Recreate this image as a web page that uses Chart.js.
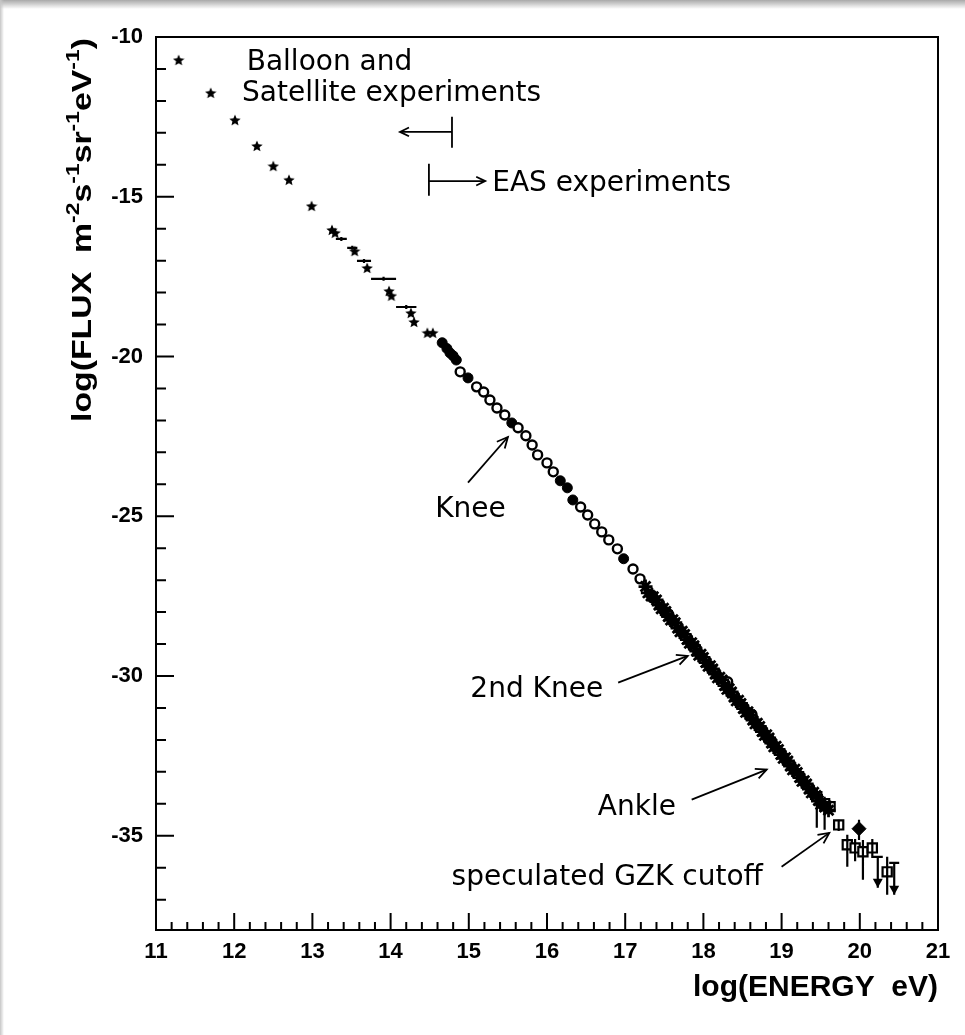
<!DOCTYPE html>
<html>
<head>
<meta charset="utf-8">
<title>Cosmic ray energy spectrum</title>
<script src="https://cdn.jsdelivr.net/npm/chart.js@4.4.1/dist/chart.umd.min.js"></script>
<style>
  html, body { margin: 0; padding: 0; background: #fff; }
  #wrap { position: relative; width: 965px; height: 1035px; overflow: hidden; }
  #shadeTop { position: absolute; left: 0; top: 0; width: 965px; height: 9px;
    background: linear-gradient(#a9a9a9, rgba(255,255,255,0)); }
  #shadeLeft { position: absolute; left: 0; top: 0; width: 4px; height: 1035px;
    background: linear-gradient(to right, #c6c6c6, rgba(255,255,255,0)); }
</style>
</head>
<body>
<div id="wrap">
  <canvas id="spectrum" width="965" height="1035"></canvas>
  <div id="shadeTop"></div>
  <div id="shadeLeft"></div>
</div>
<script>
// ---- data (log10 energy [eV], log10 flux) ----
const xMajor = [11, 12, 13, 14, 15, 16, 17, 18, 19, 20, 21];
const yMajor = [-35, -30, -25, -20, -15, -10];

// balloon / satellite (stars)
const balloonPts = [
  [11.29, -10.72], [11.70, -11.75], [12.01, -12.60], [12.29, -13.41], [12.50, -14.04],
  [12.70, -14.47], [12.99, -15.29], [13.25, -16.04], [13.29, -16.13], [13.54, -16.70],
  [13.70, -17.23], [13.98, -17.95], [14.01, -18.10], [14.26, -18.64], [14.30, -18.92],
  [14.47, -19.26], [14.54, -19.26]
];

// wide-bin points: [x, y, half width in x]
const binPts = [
  [13.37, -16.32, 0.07], [13.51, -16.60, 0.065], [13.66, -17.01, 0.09],
  [13.91, -17.57, 0.16], [14.20, -18.45, 0.13]
];

const openCircles = [
  [14.89, -20.48], [15.10, -20.95], [15.19, -21.11], [15.27, -21.36], [15.36, -21.61],
  [15.46, -21.83], [15.63, -22.23], [15.73, -22.48], [15.81, -22.77], [15.88, -23.08],
  [16.00, -23.33], [16.08, -23.61], [16.43, -24.71], [16.52, -24.96], [16.61, -25.24],
  [16.70, -25.49], [16.79, -25.74], [16.90, -26.02], [17.10, -26.65], [17.19, -26.96],
  [17.55, -28.05], [17.90, -29.12], [18.31, -30.18], [18.62, -31.20], [18.85, -32.00]
];

const filledCircles = [
  [14.66, -19.57], [14.72, -19.75], [14.76, -19.89], [14.80, -19.98], [14.84, -20.11],
  [14.99, -20.67], [15.55, -22.08], [16.17, -23.89], [16.26, -24.11], [16.33, -24.49],
  [16.98, -26.33]
];

// air shower arrays (asterisks), two groups
const showerA = [
  [17.26, -27.20], [17.33, -27.50], [17.40, -27.62], [17.46, -27.90], [17.52, -27.98],
  [17.58, -28.25], [17.64, -28.33], [17.70, -28.62], [17.76, -28.70], [17.82, -28.98],
  [17.88, -29.05], [17.94, -29.35], [18.00, -29.42], [18.06, -29.70], [18.12, -29.78],
  [18.18, -30.06], [18.24, -30.12], [18.30, -30.42], [18.36, -30.50], [18.42, -30.78],
  [18.48, -30.86], [18.54, -31.14], [18.60, -31.22], [18.66, -31.50], [18.72, -31.58],
  [18.78, -31.86], [18.84, -31.94], [18.90, -32.22], [18.96, -32.30], [19.02, -32.58],
  [19.08, -32.66], [19.14, -32.94], [19.20, -33.02], [19.26, -33.30], [19.32, -33.38],
  [19.38, -33.66], [19.44, -33.74], [19.50, -34.02]
];
const showerB = [
  [17.29, -27.40], [17.36, -27.52], [17.43, -27.78], [17.49, -27.88], [17.55, -28.14],
  [17.61, -28.24], [17.67, -28.50], [17.73, -28.60], [17.79, -28.86], [17.85, -28.96],
  [17.91, -29.22], [17.97, -29.32], [18.03, -29.58], [18.09, -29.68], [18.15, -29.94],
  [18.21, -30.04], [18.27, -30.30], [18.33, -30.40], [18.39, -30.66], [18.45, -30.76],
  [18.51, -31.02], [18.57, -31.12], [18.63, -31.38], [18.69, -31.48], [18.75, -31.74],
  [18.81, -31.84], [18.87, -32.10], [18.93, -32.20], [18.99, -32.46], [19.05, -32.56],
  [19.11, -32.82], [19.17, -32.92], [19.23, -33.18], [19.29, -33.28], [19.35, -33.54],
  [19.41, -33.64], [19.47, -33.90], [19.55, -34.10], [19.60, -34.20]
];

// highest energies: [x, y, yHigh, yLow]
const squarePts = [
  [19.45, -33.78, -33.56, -34.75], [19.55, -34.00, -33.78, -34.81], [19.62, -34.09, -33.90, -34.30],
  [19.73, -34.66, -34.50, -34.85], [19.84, -35.28, -34.97, -35.97], [19.94, -35.38, -35.10, -35.80],
  [20.04, -35.50, -35.13, -36.38], [20.16, -35.38, -35.10, -35.70], [20.35, -36.13, -35.66, -36.85]
];
const diamondPts = [[19.99, -34.78, -34.50, -35.13]];
// upper limits: [x, top, arrow tip]
const upperLimits = [[20.23, -35.66, -36.63], [20.44, -35.85, -36.85]];

// ---- annotations (data coordinates) ----
const notes = [
  { text: 'Balloon and', x: 12.16, y: -11.03 },
  { text: 'Satellite experiments', x: 12.10, y: -12.00 },
  { text: 'EAS experiments', x: 15.30, y: -14.82 },
  { text: 'Knee', x: 14.57, y: -25.02 },
  { text: '2nd Knee', x: 15.02, y: -30.65 },
  { text: 'Ankle', x: 16.65, y: -34.34 },
  { text: 'speculated GZK cutoff', x: 14.78, y: -36.53 }
];
const arrows = [
  [14.99, -23.95, 15.50, -22.52],
  [16.91, -30.21, 17.80, -29.37],
  [17.85, -33.87, 18.81, -32.93],
  [19.00, -35.97, 19.61, -34.91]
];

function toXY(list) {
  return list.map(function(p) { return { x: p[0], y: p[1] }; });
}

// filled five-point star marker
function makeStar(size) {
  const c = document.createElement('canvas');
  c.width = size; c.height = size;
  const g = c.getContext('2d');
  const r = size / 2, ri = r * 0.45;
  g.beginPath();
  for (let i = 0; i < 10; i++) {
    const a = -Math.PI / 2 + i * Math.PI / 5;
    const rr = i % 2 === 0 ? r : ri;
    g.lineTo(r + rr * Math.cos(a), r + 0.5 + rr * Math.sin(a));
  }
  g.closePath();
  g.fillStyle = '#000';
  g.fill();
  return c;
}

function arrowHead(ctx, x1, y1, x2, y2, len) {
  const a = Math.atan2(y2 - y1, x2 - x1);
  ctx.beginPath();
  ctx.moveTo(x2 - len * Math.cos(a - 0.45), y2 - len * Math.sin(a - 0.45));
  ctx.lineTo(x2, y2);
  ctx.lineTo(x2 - len * Math.cos(a + 0.45), y2 - len * Math.sin(a + 0.45));
  ctx.stroke();
}

const decor = {
  id: 'decor',
  afterDatasetsDraw: function(chart) {
    const ctx = chart.ctx;
    const xs = chart.scales.x, ys = chart.scales.y;
    const px = function(v) { return xs.getPixelForValue(v); };
    const py = function(v) { return ys.getPixelForValue(v); };
    const area = chart.chartArea;
    ctx.save();
    ctx.strokeStyle = '#000';
    ctx.fillStyle = '#000';

    // frame
    ctx.lineWidth = 2;
    ctx.strokeRect(area.left, area.top, area.right - area.left, area.bottom - area.top);

    // inward ticks
    ctx.lineWidth = 2;
    ctx.beginPath();
    for (let v = -37; v <= -10; v++) {
      const len = v % 5 === 0 ? 18 : 10;
      ctx.moveTo(area.left, py(v));
      ctx.lineTo(area.left + len, py(v));
    }
    for (let i = 0; i <= 50; i++) {
      const v = 11 + i * 0.2;
      const len = i % 5 === 0 ? 17 : 8;
      ctx.moveTo(px(v), area.bottom);
      ctx.lineTo(px(v), area.bottom - len);
    }
    ctx.stroke();

    // wide-bin bars
    ctx.lineWidth = 2.2;
    ctx.beginPath();
    binPts.forEach(function(p) {
      ctx.moveTo(px(p[0] - p[2]), py(p[1]));
      ctx.lineTo(px(p[0] + p[2]), py(p[1]));
      ctx.moveTo(px(p[0]), py(p[1]) - 2);
      ctx.lineTo(px(p[0]), py(p[1]) + 2);
    });
    // vertical error bars
    squarePts.concat(diamondPts).forEach(function(p) {
      ctx.moveTo(px(p[0]), py(p[2]));
      ctx.lineTo(px(p[0]), py(p[3]));
    });
    // upper limits
    upperLimits.forEach(function(p) {
      ctx.moveTo(px(p[0]) - 5, py(p[1]));
      ctx.lineTo(px(p[0]) + 5, py(p[1]));
      ctx.moveTo(px(p[0]), py(p[1]));
      ctx.lineTo(px(p[0]), py(p[2]));
    });
    ctx.stroke();
    upperLimits.forEach(function(p) {
      const x = px(p[0]), y = py(p[2]);
      ctx.beginPath();
      ctx.moveTo(x - 5, y - 9);
      ctx.lineTo(x + 5, y - 9);
      ctx.lineTo(x, y);
      ctx.closePath();
      ctx.fill();
    });

    // Balloon / EAS range arrows
    ctx.lineWidth = 1.8;
    ctx.beginPath();
    ctx.moveTo(px(14.785), py(-12.50)); ctx.lineTo(px(14.785), py(-13.47));
    ctx.moveTo(px(14.785), py(-12.97)); ctx.lineTo(px(14.12), py(-12.97));
    ctx.moveTo(px(14.49), py(-13.97)); ctx.lineTo(px(14.49), py(-14.97));
    ctx.moveTo(px(14.49), py(-14.51)); ctx.lineTo(px(15.21), py(-14.51));
    ctx.stroke();
    arrowHead(ctx, px(14.785), py(-12.97), px(14.12), py(-12.97), 10);
    arrowHead(ctx, px(14.49), py(-14.51), px(15.21), py(-14.51), 10);

    arrows.forEach(function(a) {
      ctx.beginPath();
      ctx.moveTo(px(a[0]), py(a[1]));
      ctx.lineTo(px(a[2]), py(a[3]));
      ctx.stroke();
      arrowHead(ctx, px(a[0]), py(a[1]), px(a[2]), py(a[3]), 12);
    });

    // annotation text
    ctx.font = '28px "DejaVu Sans"';
    ctx.textBaseline = 'alphabetic';
    ctx.textAlign = 'left';
    notes.forEach(function(n) {
      ctx.fillText(n.text, px(n.x), py(n.y));
    });

    // x title
    ctx.font = 'bold 30px "Liberation Sans"';
    ctx.textAlign = 'right';
    ctx.fillText('log(ENERGY  eV)', area.right, 996);

    // y title with superscripts, rotated
    const parts = [['log(FLUX  m', 0], ['-2', 1], ['s', 0], ['-1', 1], ['sr', 0], ['-1', 1],
                   ['eV', 0], ['-1', 1], [')', 0]];
    const baseFont = 'bold 28px "Liberation Sans"', supFont = 'bold 19px "Liberation Sans"';
    let total = 0;
    parts.forEach(function(p) {
      ctx.font = p[1] ? supFont : baseFont;
      total += ctx.measureText(p[0]).width;
    });
    const target = 384;
    ctx.translate(91, 422);
    ctx.rotate(-Math.PI / 2);
    ctx.scale(target / total, 1);
    ctx.textAlign = 'left';
    let cx = 0;
    parts.forEach(function(p) {
      ctx.font = p[1] ? supFont : baseFont;
      ctx.fillText(p[0], cx, p[1] ? -12 : 0);
      cx += ctx.measureText(p[0]).width;
    });
    ctx.restore();
  }
};

const tickFont = { family: 'Liberation Sans', weight: 'bold', size: 22 };

new Chart(document.getElementById('spectrum'), {
  type: 'scatter',
  data: {
    datasets: [
      { data: toXY(balloonPts), pointStyle: makeStar(12), pointRadius: 6 },
      { data: toXY(binPts), pointRadius: 0 },
      { data: toXY(showerA), pointStyle: 'star', pointRadius: 7, borderWidth: 2.8,
        borderColor: '#000', backgroundColor: '#000' },
      { data: toXY(showerB), pointStyle: 'star', pointRadius: 7, borderWidth: 2.8,
        borderColor: '#000', backgroundColor: '#000' },
      { data: toXY(openCircles), pointStyle: 'circle', pointRadius: 4.5, borderWidth: 2.4,
        borderColor: '#000', backgroundColor: '#fff' },
      { data: toXY(filledCircles), pointStyle: 'circle', pointRadius: 5, borderWidth: 1,
        borderColor: '#000', backgroundColor: '#000' },
      { data: toXY(squarePts), pointStyle: 'rect', pointRadius: 6.5, borderWidth: 2.2,
        borderColor: '#000', backgroundColor: '#fff' },
      { data: toXY(diamondPts), pointStyle: 'rectRot', pointRadius: 7, borderWidth: 1,
        borderColor: '#000', backgroundColor: '#000' }
    ]
  },
  options: {
    responsive: false,
    animation: false,
    events: [],
    layout: { padding: { top: 37, right: 27, left: 0, bottom: 0 } },
    plugins: { legend: { display: false }, tooltip: { enabled: false } },
    scales: {
      x: {
        type: 'linear', min: 11, max: 21,
        afterBuildTicks: function(s) { s.ticks = xMajor.map(function(v) { return { value: v }; }); },
        afterFit: function(s) { s.height = 105; },
        grid: { display: false, drawTicks: false },
        border: { display: false },
        ticks: { font: tickFont, color: '#000', padding: 9, maxRotation: 0, autoSkip: false }
      },
      y: {
        type: 'linear', min: -37.95, max: -10,
        afterBuildTicks: function(s) { s.ticks = yMajor.map(function(v) { return { value: v }; }); },
        afterFit: function(s) { s.width = 156; },
        grid: { display: false, drawTicks: false },
        border: { display: false },
        ticks: { font: tickFont, color: '#000', padding: 13, autoSkip: false }
      }
    }
  },
  plugins: [decor]
});
</script>
</body>
</html>
